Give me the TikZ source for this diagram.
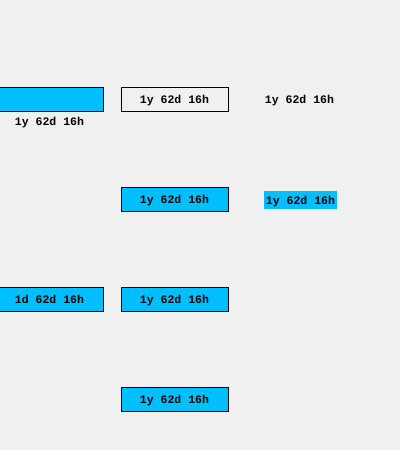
\documentclass[tikz,border=0pt]{standalone}
\usepackage{fontspec}
\setmonofont{Liberation Mono}
\definecolor{bg}{HTML}{F0F0F0}
\definecolor{skyfill}{HTML}{00BFFF}
\newcommand*{\durtext}{1y 62d 16h}

\begin{document}
\begin{tikzpicture}
[
	x=1pt,y=-1pt,
	every node/.style={font=\ttfamily\bfseries\fontsize{11.5}{12}\selectfont,text=black,text height=8pt,text depth=0pt},
	bar/.style={draw,line width=1pt,minimum width=107pt,minimum height=24pt,inner sep=0pt},
	filled/.style={bar,fill=skyfill},
	plain/.style={bar,fill=bg},
	tag/.style={fill=skyfill,inner xsep=2pt,inner ysep=0pt,minimum height=18pt}
]

	% background
	\fill[bg] (0,0) rectangle (400,450);
	\useasboundingbox (0,0) rectangle (400,450);
	\clip (0,0) rectangle (400,450);

	% first row
	\node[filled] (topleft) at (49.5,99) {};
	\node[below=6pt,inner sep=0pt] (toplabel) at (topleft.south) {\durtext};
	\node[plain] (topmid) at (174.5,99) {\durtext};
	\node (topright) at (299.5,99) {\durtext};

	% second row
	\node[filled] (midbox) at (174.5,199) {\durtext};
	\node[tag] (midtag) at (300.5,200) {\durtext};

	% third row
	\node[filled] (lowleft) at (49.5,299) {1d 62d 16h};
	\node[filled] (lowmid) at (174.5,299) {\durtext};

	% last row
	\node[filled] (bottom) at (174.5,399) {\durtext};

\end{tikzpicture}
\end{document}
